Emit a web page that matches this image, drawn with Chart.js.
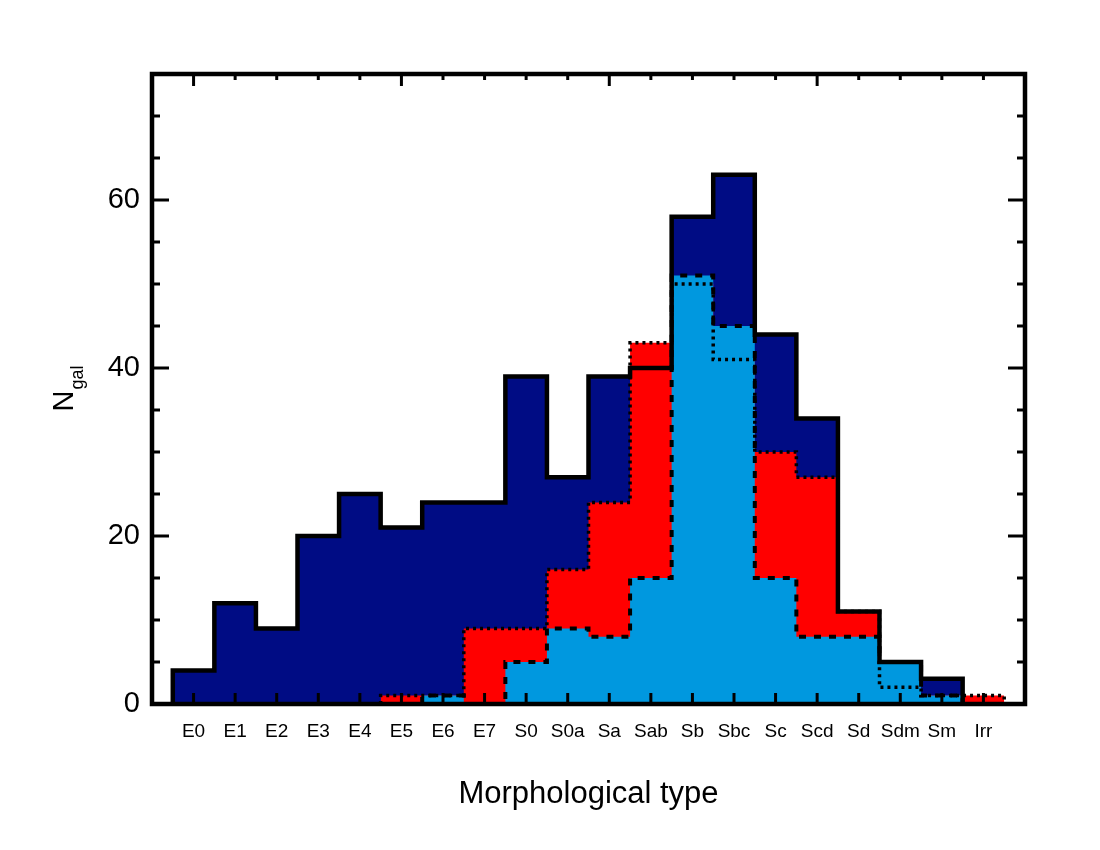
<!DOCTYPE html>
<html>
<head>
<meta charset="utf-8">
<title>Morphological type histogram</title>
<script src="https://cdn.jsdelivr.net/npm/chart.js@4.4.0/dist/chart.umd.min.js"></script>
<style>
  html, body { margin: 0; padding: 0; background: #fff; }
  #wrap { width: 1100px; height: 850px; }
</style>
</head>
<body>
<div id="wrap"><canvas id="histo" width="1100" height="850"></canvas></div>
<script>
// ============================================
// DATA
// ============================================
const morphTypes = ['E0', 'E1', 'E2', 'E3', 'E4', 'E5', 'E6', 'E7', 'S0', 'S0a',
                    'Sa', 'Sab', 'Sb', 'Sbc', 'Sc', 'Scd', 'Sd', 'Sdm', 'Sm', 'Irr'];
// whole sample (navy, solid outline)
const countsAll = [4, 12, 9, 20, 25, 21, 24, 24, 39, 27, 39, 40, 58, 63, 44, 34, 11, 5, 3, 0];
// red subsample (dotted outline)
const countsRed = [0, 0, 0, 0, 0, 1, 1, 9, 9, 16, 24, 43, 50, 41, 30, 27, 11, 2, 1, 1];
// light blue subsample (dashed outline)
const countsBlue = [0, 0, 0, 0, 0, 0, 1, 0, 5, 9, 8, 15, 51, 45, 15, 8, 8, 5, 1, 0];
const yLabelTicks = [0, 20, 40, 60];

const FONT = "'Liberation Sans', Arial, Helvetica, sans-serif";

// turn bin counts into the corner points of a histogram outline
function stepPoints(vals) {
  const first = vals.findIndex(v => v > 0);
  const last = vals.length - 1 - [...vals].reverse().findIndex(v => v > 0);
  const pts = [{ x: first - 0.5, y: 0 }];
  for (let i = first; i <= last; i++) {
    pts.push({ x: i - 0.5, y: vals[i] }, { x: i + 0.5, y: vals[i] });
  }
  pts.push({ x: last + 0.5, y: 0 });
  return pts;
}

// ============================================
// FRAME, TICK MARKS AND Y TITLE
// ============================================
const framePlugin = {
  id: 'frame',
  afterDatasetsDraw(chart) {
    const { ctx, chartArea: a, scales: { x, y } } = chart;
    const seg = (x1, y1, x2, y2) => {
      ctx.beginPath();
      ctx.moveTo(x1, y1);
      ctx.lineTo(x2, y2);
      ctx.stroke();
    };
    ctx.save();
    ctx.strokeStyle = '#000';
    ctx.lineCap = 'butt';
    ctx.lineWidth = 3;

    // left / right ticks, major every 20, minor every 5
    for (let v = 5; v < 75; v += 5) {
      const py = y.getPixelForValue(v);
      const len = v % 20 === 0 ? 17 : 8;
      seg(a.left, py, a.left + len, py);
      seg(a.right, py, a.right - len, py);
    }
    // bottom / top ticks at every type
    morphTypes.forEach((t, i) => {
      const px = x.getPixelForValue(i);
      seg(px, a.bottom, px, a.bottom - 11);
      seg(px, a.top, px, a.top + (i % 5 === 0 ? 12 : 6));
    });

    ctx.lineWidth = 4.5;
    ctx.lineJoin = 'miter';
    ctx.strokeRect(a.left, a.top, a.right - a.left, a.bottom - a.top);

    // N_gal, rotated
    ctx.translate(73, 389);
    ctx.rotate(-Math.PI / 2);
    ctx.fillStyle = '#000';
    ctx.textBaseline = 'alphabetic';
    ctx.font = '29px ' + FONT;
    const wN = ctx.measureText('N').width;
    ctx.font = '18px ' + FONT;
    const wSub = ctx.measureText('gal').width;
    const x0 = -(wN + wSub) / 2;
    ctx.font = '29px ' + FONT;
    ctx.fillText('N', x0, 0);
    ctx.font = '18px ' + FONT;
    ctx.fillText('gal', x0 + wN + 1, 10);
    ctx.restore();
  }
};

// ============================================
// CHART
// ============================================
new Chart(document.getElementById('histo'), {
  type: 'line',
  data: {
    datasets: [
      {
        label: 'blue',
        data: stepPoints(countsBlue),
        borderColor: '#000',
        borderWidth: 4,
        borderDash: [7, 8],
        backgroundColor: '#0098df',
        fill: 'origin'
      },
      {
        label: 'red',
        data: stepPoints(countsRed),
        borderColor: '#000',
        borderWidth: 3.5,
        borderDash: [3, 4],
        backgroundColor: '#ff0000',
        fill: 'origin'
      },
      {
        label: 'all',
        data: stepPoints(countsAll),
        borderColor: '#000',
        borderWidth: 4.5,
        backgroundColor: '#000c84',
        fill: 'origin'
      }
    ]
  },
  options: {
    responsive: false,
    animation: false,
    devicePixelRatio: 1,
    layout: { padding: { top: 74, right: 75, left: 0, bottom: 0 } },
    elements: {
      line: { tension: 0, borderJoinStyle: 'miter', borderCapStyle: 'butt' },
      point: { radius: 0, hitRadius: 0, hoverRadius: 0 }
    },
    plugins: {
      legend: { display: false },
      tooltip: { enabled: false },
      filler: { propagate: false, drawTime: 'beforeDatasetsDraw' }
    },
    scales: {
      x: {
        type: 'linear',
        position: 'bottom',
        min: -1,
        max: 20,
        grid: { display: false, drawTicks: false },
        border: { display: false },
        ticks: {
          stepSize: 1,
          autoSkip: false,
          maxRotation: 0,
          padding: 16,
          color: '#000',
          font: { family: FONT, size: 19 },
          callback: v => morphTypes[v] ?? ''
        },
        title: {
          display: true,
          text: 'Morphological type',
          color: '#000',
          font: { family: FONT, size: 31 },
          padding: { top: 0, bottom: 37 }
        },
        afterFit: s => { s.height = 146; }
      },
      y: {
        type: 'linear',
        position: 'left',
        min: 0,
        max: 75,
        grid: { display: false, drawTicks: false },
        border: { display: false },
        ticks: {
          stepSize: 20,
          padding: 12,
          color: '#000',
          font: { family: FONT, size: 29 },
          callback: v => yLabelTicks.includes(v) ? v : ''
        },
        afterFit: s => { s.width = 152; }
      }
    }
  },
  plugins: [framePlugin]
});
</script>
</body>
</html>
